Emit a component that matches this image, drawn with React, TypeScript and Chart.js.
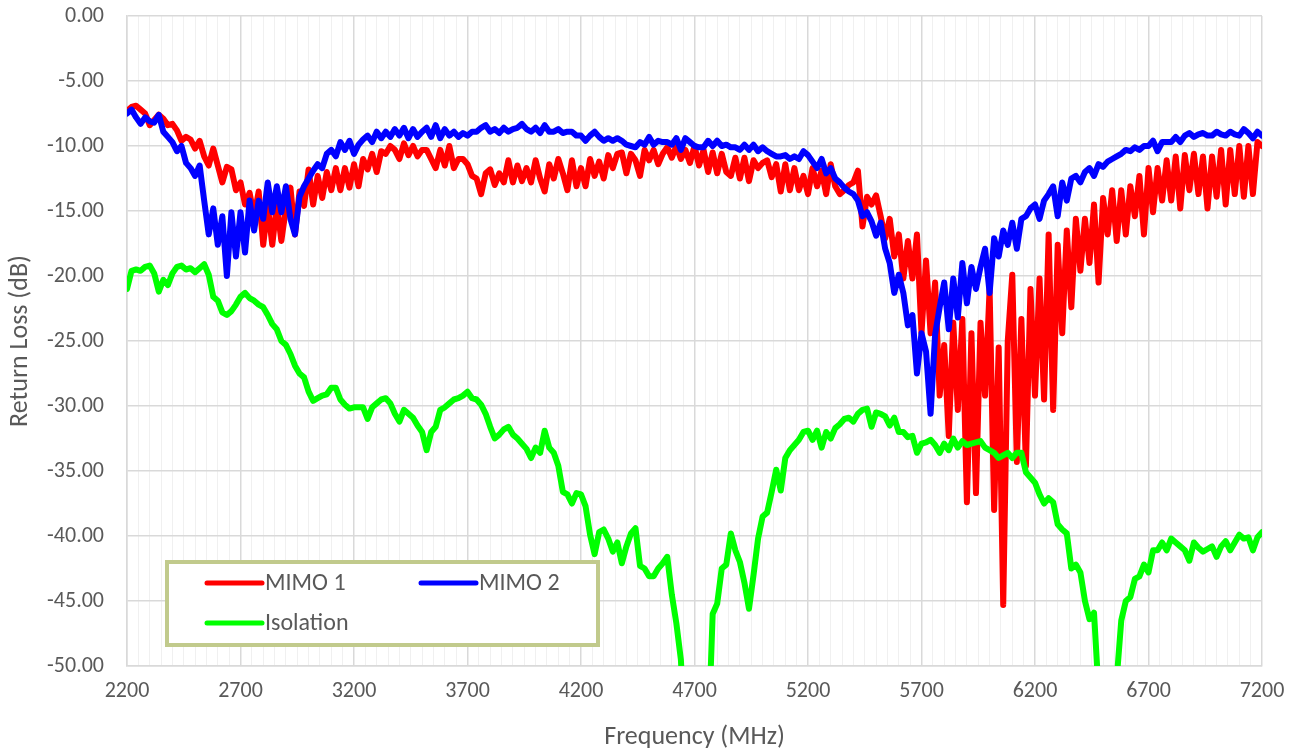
import React, { useEffect, useRef } from "react";
import { Chart, registerables } from "chart.js";

Chart.register(...registerables);

// Frequency sweep: 2200 MHz to 7200 MHz, one sample every 20 MHz
const FREQ_START_MHZ = 2200;
const FREQ_STEP_MHZ = 20;

const X_MIN = 2200;
const X_MAX = 7200;
const X_LABEL_STEP = 500;
const X_MINOR_STEP = 50;
const Y_MIN = -50;
const Y_MAX = 0;
const Y_STEP = 5;

const SERIES_LABELS = ["MIMO 1", "MIMO 2", "Isolation"];
const SERIES_COLORS = ["#ff0000", "#0000ff", "#00ff00"];
const X_TITLE = "Frequency (MHz)";
const Y_TITLE = "Return Loss (dB)";

// MIMO 1 return loss (dB)
const MIMO1_DB = [
  -7.3, -7.0, -6.9, -7.2, -7.5, -8.4, -8.0, -7.6, -7.9, -8.4, // 2200
  -8.3, -8.8, -9.6, -9.3, -9.5, -10.2, -9.6, -10.8, -11.5, -10.2, // 2400
  -11.5, -12.8, -11.6, -11.8, -13.4, -12.8, -14.5, -13.6, -15.4, -13.5, // 2600
  -17.6, -14.6, -17.6, -14.5, -17.3, -14.8, -13.2, -16.8, -13.5, -14.6, // 2800
  -11.8, -14.5, -12.3, -14.0, -12.0, -13.4, -11.7, -13.4, -11.7, -13.2, // 3000
  -11.4, -13.1, -11.0, -11.8, -10.6, -12.0, -10.4, -10.6, -10.0, -10.3, // 3200
  -11.0, -9.8, -10.7, -10.0, -10.8, -10.3, -10.3, -11.0, -11.7, -10.3, // 3400
  -11.5, -10.0, -11.7, -11.0, -11.0, -11.4, -12.3, -12.5, -13.7, -12.1, // 3600
  -11.8, -13.0, -12.1, -12.8, -11.1, -12.8, -11.5, -12.7, -11.7, -12.8, // 3800
  -11.1, -12.5, -13.5, -11.4, -12.5, -11.0, -12.1, -13.4, -11.1, -13.1, // 4000
  -11.7, -13.1, -11.0, -12.3, -11.2, -12.5, -10.7, -11.7, -10.6, -10.5, // 4200
  -12.1, -10.6, -11.1, -12.3, -10.3, -11.1, -10.3, -11.4, -10.6, -10.1, // 4400
  -10.9, -10.0, -11.0, -10.3, -11.3, -10.0, -11.5, -10.3, -12.0, -10.5, // 4600
  -12.1, -10.6, -12.0, -12.3, -10.9, -12.5, -10.9, -12.7, -11.1, -11.7, // 4800
  -11.3, -11.1, -12.4, -11.4, -13.5, -11.4, -13.4, -11.7, -13.4, -12.3, // 5000
  -13.7, -11.7, -13.1, -11.9, -13.7, -11.4, -13.1, -13.7, -13.4, -13.0, // 5200
  -12.8, -11.9, -16.2, -13.9, -14.5, -13.8, -15.4, -17.1, -15.6, -18.5, // 5400
  -16.8, -20.2, -17.3, -20.2, -16.8, -24.4, -18.8, -24.4, -20.5, -29.2, // 5600
  -25.3, -32.3, -23.6, -30.3, -23.3, -37.4, -24.4, -36.7, -23.6, -29.2, // 5800
  -21.0, -38.0, -25.5, -45.3, -25.0, -19.9, -34.3, -23.3, -34.6, -21.0, // 6000
  -29.2, -20.2, -29.5, -16.8, -30.3, -17.6, -24.4, -16.5, -22.4, -15.6, // 6200
  -19.6, -15.6, -19.0, -14.5, -20.5, -14.0, -16.8, -13.4, -17.3, -13.4, // 6400
  -16.8, -13.1, -15.4, -12.3, -16.8, -11.7, -15.1, -11.7, -14.2, -11.1, // 6600
  -14.2, -10.8, -14.8, -10.7, -13.4, -10.6, -13.7, -10.8, -14.8, -10.8, // 6800
  -13.9, -10.3, -14.5, -10.3, -13.7, -10.0, -13.9, -10.0, -13.7, -9.7, // 7000
  -10.0, // 7200
];

// MIMO 2 return loss (dB)
const MIMO2_DB = [
  -7.5, -7.2, -7.8, -8.3, -7.8, -8.1, -8.2, -7.6, -8.9, -9.3, // 2200
  -9.7, -10.4, -10.0, -11.3, -11.7, -12.3, -11.5, -14.2, -16.8, -14.8, // 2400
  -17.6, -15.4, -20.0, -15.1, -18.5, -15.1, -18.2, -14.2, -16.5, -14.2, // 2600
  -15.6, -12.8, -15.1, -13.1, -15.1, -13.1, -15.6, -16.8, -13.9, -13.1, // 2800
  -12.5, -11.9, -11.4, -11.7, -10.6, -10.3, -10.8, -9.7, -10.3, -9.6, // 3000
  -10.6, -9.9, -9.5, -9.2, -9.7, -8.9, -9.4, -8.9, -9.3, -8.7, // 3200
  -9.2, -8.6, -9.4, -8.7, -9.3, -8.9, -8.6, -9.3, -8.4, -9.4, // 3400
  -8.7, -9.2, -8.9, -9.3, -9.0, -9.2, -8.9, -8.9, -8.6, -8.4, // 3600
  -8.9, -8.7, -9.0, -8.6, -8.9, -8.7, -8.6, -8.3, -8.7, -8.9, // 3800
  -8.6, -9.0, -8.4, -8.9, -8.9, -8.7, -9.0, -8.9, -8.9, -9.2, // 4000
  -9.2, -9.6, -9.2, -8.9, -9.3, -9.6, -9.4, -9.6, -9.4, -9.6, // 4200
  -9.9, -10.0, -10.1, -9.7, -9.9, -9.3, -9.9, -9.6, -9.7, -9.7, // 4400
  -9.9, -9.4, -10.3, -9.4, -9.7, -10.0, -10.1, -10.1, -9.6, -10.0, // 4600
  -9.6, -10.0, -9.9, -10.1, -10.1, -10.3, -9.9, -10.3, -9.9, -10.4, // 4800
  -10.1, -10.4, -10.6, -10.8, -10.8, -10.7, -11.0, -10.8, -11.0, -10.4, // 5000
  -10.7, -11.2, -11.7, -11.0, -12.1, -11.7, -12.5, -12.8, -13.2, -13.5, // 5200
  -13.7, -14.2, -15.4, -15.1, -15.8, -16.9, -15.9, -17.9, -19.0, -21.3, // 5400
  -19.9, -21.3, -23.8, -23.0, -27.5, -24.4, -25.8, -30.6, -24.5, -22.4, // 5600
  -20.5, -24.1, -20.2, -23.2, -19.0, -22.1, -19.3, -21.0, -19.3, -17.9, // 5800
  -21.3, -17.1, -18.5, -16.5, -17.6, -15.9, -17.9, -15.6, -15.4, -14.8, // 6000
  -14.5, -15.6, -14.2, -13.7, -13.1, -15.4, -12.8, -14.2, -12.5, -12.3, // 6200
  -12.8, -12.0, -11.7, -12.3, -11.4, -11.6, -11.2, -11.0, -10.8, -10.6, // 6400
  -10.3, -10.4, -10.1, -10.3, -10.0, -10.0, -9.6, -10.4, -9.7, -9.7, // 6600
  -9.7, -9.3, -9.7, -9.2, -9.0, -9.3, -9.1, -9.0, -9.2, -9.2, // 6800
  -8.9, -9.1, -9.2, -8.9, -9.1, -9.2, -8.7, -9.0, -9.4, -8.9, // 7000
  -9.2, // 7200
];

// Isolation (dB); values below -50 fall off the plotted range
const ISOLATION_DB = [
  -21.0, -19.6, -19.5, -19.6, -19.3, -19.2, -19.8, -21.2, -20.3, -20.7, // 2200
  -19.8, -19.3, -19.2, -19.5, -19.4, -19.7, -19.4, -19.1, -19.9, -21.6, // 2400
  -21.9, -22.8, -23.0, -22.7, -22.2, -21.6, -21.3, -21.7, -21.9, -22.2, // 2600
  -22.4, -23.0, -23.7, -24.1, -25.0, -25.3, -26.0, -26.9, -27.5, -27.8, // 2800
  -28.9, -29.6, -29.4, -29.2, -29.1, -28.6, -28.6, -29.5, -29.9, -30.2, // 3000
  -30.1, -30.1, -30.1, -31.0, -30.1, -29.8, -29.5, -29.4, -29.8, -30.6, // 3200
  -31.2, -30.3, -30.6, -30.9, -31.5, -32.0, -33.4, -32.0, -31.6, -30.3, // 3400
  -30.1, -29.8, -29.5, -29.4, -29.2, -28.9, -29.4, -29.5, -29.9, -30.6, // 3600
  -31.6, -32.5, -32.2, -31.8, -31.6, -32.2, -32.5, -32.9, -33.3, -34.0, // 3800
  -33.2, -33.6, -31.9, -33.2, -33.6, -34.6, -36.6, -36.8, -37.5, -36.7, // 4000
  -36.8, -37.7, -39.9, -41.4, -39.7, -39.5, -40.2, -41.2, -40.5, -42.1, // 4200
  -40.8, -39.8, -39.4, -42.3, -42.5, -43.1, -43.1, -42.5, -42.1, -41.6, // 4400
  -44.5, -46.7, -49.5, -56.0, -60.0, -60.0, -60.0, -60.0, -56.0, -46.0, // 4600
  -45.2, -42.5, -42.2, -39.8, -41.1, -42.0, -43.6, -45.6, -43.0, -40.2, // 4800
  -38.5, -38.2, -36.6, -34.9, -36.5, -34.0, -33.4, -33.0, -32.6, -32.0, // 5000
  -31.9, -32.6, -31.9, -33.2, -32.0, -32.5, -31.7, -31.4, -31.0, -30.9, // 5200
  -31.2, -30.6, -30.3, -30.2, -31.6, -30.5, -30.6, -30.8, -31.5, -30.9, // 5400
  -32.0, -32.0, -32.4, -32.3, -33.6, -32.9, -32.8, -32.6, -33.0, -33.6, // 5600
  -32.9, -33.4, -32.5, -33.2, -32.7, -33.0, -32.9, -32.8, -32.7, -33.2, // 5800
  -33.4, -33.6, -34.0, -33.8, -33.6, -34.0, -33.6, -33.6, -35.1, -35.5, // 6000
  -35.9, -36.8, -37.5, -37.1, -37.4, -39.1, -39.5, -39.8, -42.5, -42.2, // 6200
  -42.8, -45.0, -46.4, -45.9, -52.0, -58.0, -60.0, -58.0, -51.0, -46.5, // 6400
  -45.0, -44.7, -43.3, -43.1, -42.2, -42.8, -41.1, -41.1, -40.5, -41.1, // 6600
  -40.2, -40.5, -40.8, -41.1, -41.9, -40.5, -40.9, -41.2, -41.0, -40.8, // 6800
  -41.6, -40.8, -40.4, -41.1, -40.5, -39.9, -40.2, -40.1, -41.1, -40.1, // 7000
  -39.7, // 7200
];

const SERIES_VALUES = [MIMO1_DB, MIMO2_DB, ISOLATION_DB];

const FONT_FAMILY = "Calibri, Carlito, Lato, 'Open Sans', sans-serif";
const TEXT_COLOR = "#595959";
const GRID_MAJOR = "#d9d9d9";
const GRID_MINOR = "#f0f0f0";

const isMajorX = (v: number) => Math.abs((v - X_MIN) % X_LABEL_STEP) < 1e-6;

const boxLegendPlugin = {
  id: "boxLegend",
  afterDraw(chart: any) {
    const { ctx, chartArea } = chart;
    const x0 = chartArea.left + 40;
    const y0 = chartArea.top + 546;
    const w = 431;
    const h = 83;
    ctx.save();
    ctx.fillStyle = "#ffffff";
    ctx.fillRect(x0, y0, w, h);
    ctx.strokeStyle = "#c1ca8c";
    ctx.lineWidth = 4;
    ctx.strokeRect(x0, y0, w, h);
    const slots = [
      { dx: 40, dy: 21 },
      { dx: 254, dy: 21 },
      { dx: 40, dy: 61 },
    ];
    chart.data.datasets.forEach((ds: any, i: number) => {
      const s = slots[i];
      if (!s) return;
      const lx = x0 + s.dx;
      const ly = y0 + s.dy;
      ctx.beginPath();
      ctx.strokeStyle = ds.borderColor;
      ctx.lineWidth = 5;
      ctx.lineCap = "round";
      ctx.moveTo(lx, ly);
      ctx.lineTo(lx + 55, ly);
      ctx.stroke();
      ctx.fillStyle = TEXT_COLOR;
      ctx.font = `24px ${FONT_FAMILY}`;
      ctx.textAlign = "left";
      ctx.textBaseline = "middle";
      ctx.fillText(ds.label, lx + 58, ly + 1);
    });
    ctx.restore();
  },
};

export default function App() {
  const canvasRef = useRef<HTMLCanvasElement | null>(null);

  useEffect(() => {
    const canvas = canvasRef.current;
    if (!canvas) return;

    const datasets = SERIES_VALUES.map((vals, si) => ({
      label: SERIES_LABELS[si],
      data: vals.map((v, i) => ({ x: FREQ_START_MHZ + FREQ_STEP_MHZ * i, y: v })),
      borderColor: SERIES_COLORS[si],
      backgroundColor: SERIES_COLORS[si],
      borderWidth: 6,
      pointRadius: 0,
      pointHoverRadius: 0,
      tension: 0,
      fill: false,
      borderJoinStyle: "round" as const,
      borderCapStyle: "round" as const,
      clip: 0,
      order: 3 - si,
    }));

    const chart = new Chart(canvas, {
      type: "line",
      data: { datasets },
      plugins: [boxLegendPlugin],
      options: {
        animation: false,
        responsive: false,
        maintainAspectRatio: false,
        devicePixelRatio: 1,
        layout: { padding: { top: 16, right: 35, bottom: 0, left: 0 } },
        plugins: {
          legend: { display: false },
          tooltip: { enabled: false },
          title: { display: false },
        },
        scales: {
          x: {
            type: "linear",
            min: X_MIN,
            max: X_MAX,
            afterFit: (scale: any) => {
              scale.height = 85;
              scale.paddingLeft = 10;
              scale.paddingRight = 10;
            },
            ticks: {
              stepSize: X_MINOR_STEP,
              autoSkip: false,
              maxRotation: 0,
              minRotation: 0,
              padding: 12,
              color: TEXT_COLOR,
              font: { family: FONT_FAMILY, size: 22 },
              callback: (v: any) => (isMajorX(Number(v)) ? String(v) : ""),
            },
            grid: {
              drawTicks: false,
              color: (c: any) => (c.tick && isMajorX(c.tick.value) ? GRID_MAJOR : GRID_MINOR),
              lineWidth: (c: any) => (c.tick && isMajorX(c.tick.value) ? 1.5 : 1),
            },
            border: { color: GRID_MAJOR, width: 1.5 },
            title: {
              display: true,
              text: X_TITLE,
              color: TEXT_COLOR,
              font: { family: FONT_FAMILY, size: 26, lineHeight: 1 },
              padding: { top: 0, bottom: 1 },
            },
          },
          y: {
            type: "linear",
            min: Y_MIN,
            max: Y_MAX,
            afterFit: (scale: any) => {
              scale.width = 127;
              scale.paddingTop = 10;
              scale.paddingBottom = 10;
            },
            ticks: {
              stepSize: Y_STEP,
              padding: 23,
              color: TEXT_COLOR,
              font: { family: FONT_FAMILY, size: 22 },
              callback: (v: any) => {
                const n = Number(v);
                return (Math.abs(n) < 1e-9 ? 0 : n).toFixed(2);
              },
            },
            grid: {
              drawTicks: false,
              color: GRID_MAJOR,
              lineWidth: 1.5,
            },
            border: { color: GRID_MAJOR, width: 1.5 },
            title: {
              display: true,
              text: Y_TITLE,
              color: TEXT_COLOR,
              font: { family: FONT_FAMILY, size: 26, lineHeight: 1 },
              padding: { top: 7, bottom: 0 },
            },
          },
        },
      },
    });

    return () => {
      chart.destroy();
    };
  }, []);

  return (
    <div
      style={{
        position: "fixed",
        left: 0,
        top: 0,
        width: 1297,
        height: 751,
        background: "#ffffff",
      }}
    >
      <canvas ref={canvasRef} width={1297} height={751} style={{ width: 1297, height: 751 }} />
    </div>
  );
}
